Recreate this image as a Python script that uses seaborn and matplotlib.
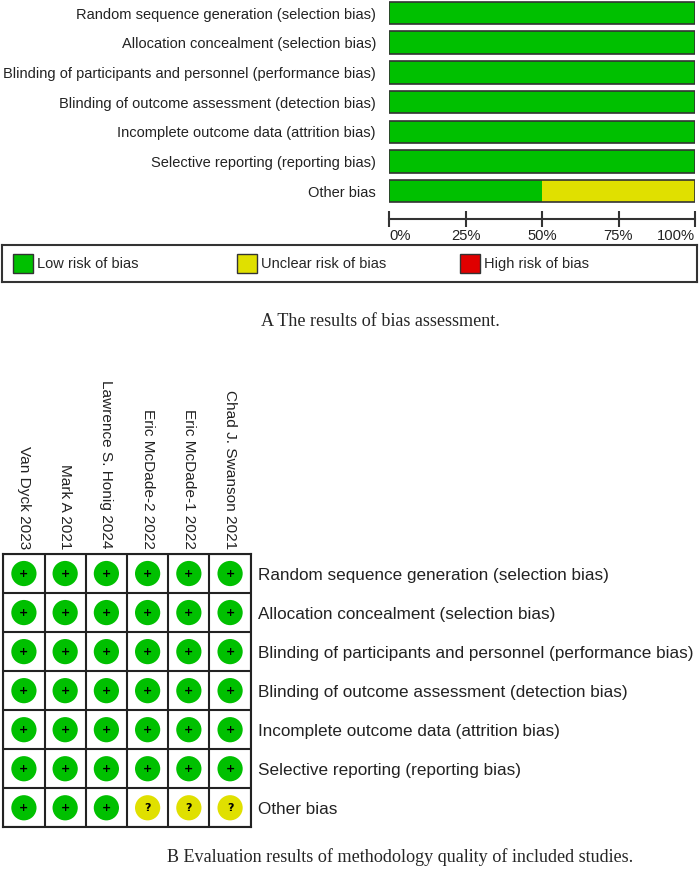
import numpy as np
import pandas as pd
import matplotlib
matplotlib.use('Agg')
import matplotlib.pyplot as plt
import seaborn as sns
from matplotlib.patches import Patch

sns.set_style('white')
plt.rcParams['font.family'] = ['Liberation Sans', 'DejaVu Sans']

# data
studies = ['Van Dyck 2023', 'Mark A 2021', 'Lawrence S. Honig 2024',
           'Eric McDade-2 2022', 'Eric McDade-1 2022', 'Chad J. Swanson 2021']
domains = ['Random sequence generation (selection bias)',
           'Allocation concealment (selection bias)',
           'Blinding of participants and personnel (performance bias)',
           'Blinding of outcome assessment (detection bias)',
           'Incomplete outcome data (attrition bias)',
           'Selective reporting (reporting bias)',
           'Other bias']
random_seq = ['+', '+', '+', '+', '+', '+']
allocation = ['+', '+', '+', '+', '+', '+']
blind_part = ['+', '+', '+', '+', '+', '+']
blind_out = ['+', '+', '+', '+', '+', '+']
incomplete = ['+', '+', '+', '+', '+', '+']
selective = ['+', '+', '+', '+', '+', '+']
other = ['+', '+', '+', '?', '?', '?']
judgements = [random_seq, allocation, blind_part, blind_out, incomplete, selective, other]

legend_labels = ['Low risk of bias', 'Unclear risk of bias', 'High risk of bias']
pct_ticks = [0, 25, 50, 75, 100]

GREEN, YELLOW, RED = '#00C000', '#E0E000', '#E00000'
colors = {'+': GREEN, '?': YELLOW, '-': RED}

low = [100 * r.count('+') / len(r) for r in judgements]
unclear = [100 * r.count('?') / len(r) for r in judgements]
high = [100 * r.count('-') / len(r) for r in judgements]
summary = pd.DataFrame({'domain': domains, 'low': low,
                        'low_unclear': np.add(low, unclear),
                        'total': np.add(np.add(low, unclear), high)})

W, H = 699, 894
def box(x0, y0, x1, y1):
    return [x0 / W, 1 - y1 / H, (x1 - x0) / W, (y1 - y0) / H]

fig = plt.figure(figsize=(W / 100, H / 100), dpi=100)

# ---- A: summary bars
ax1 = fig.add_axes(box(389, 0, 695, 219))
sns.barplot(data=summary, x='total', y='domain', color=RED, width=0.76,
            linewidth=0, saturation=1, ax=ax1)
sns.barplot(data=summary, x='low_unclear', y='domain', color=YELLOW, width=0.76,
            linewidth=0, saturation=1, ax=ax1)
sns.barplot(data=summary, x='low', y='domain', color=GREEN, width=0.76,
            linewidth=0, saturation=1, ax=ax1)
sns.barplot(data=summary, x='total', y='domain', fill=False, width=0.76,
            edgecolor='#333333', linewidth=1.2, ax=ax1)
ax1.set_xlim(0, 100)
ax1.set_ylim(6.936, -0.438)
ax1.set_xlabel('')
ax1.set_ylabel('')
for s in ['top', 'right', 'left']:
    ax1.spines[s].set_visible(False)
ax1.spines['bottom'].set_color('#333333')
ax1.spines['bottom'].set_linewidth(1.5)
ax1.set_xticks(pct_ticks)
ax1.set_xticklabels([f'{p}%' for p in pct_ticks])
for i, lab in enumerate(ax1.get_xticklabels()):
    lab.set_ha('left' if i == 0 else ('right' if i == len(pct_ticks) - 1 else 'center'))
ax1.tick_params(axis='x', bottom=True, direction='inout', length=12, width=1.5,
                color='#333333', pad=1, labelsize=10.6, labelcolor='#222222')
ax1.tick_params(axis='y', length=0, pad=9.4, labelsize=10.5, labelcolor='#222222')

# legend inside a framed strip, one entry per column slot
axl = fig.add_axes(box(2, 245, 697, 282))
axl.set_xticks([])
axl.set_yticks([])
for s in axl.spines.values():
    s.set_color('#333333')
    s.set_linewidth(1.5)
slots = [13, 237, 460]
legs = []
for x0, c, lab in zip(slots, [GREEN, YELLOW, RED], legend_labels):
    leg = axl.legend([Patch(facecolor=c, edgecolor='#333333', linewidth=1)], [lab],
                     loc='center left', bbox_to_anchor=((x0 - 2) / 695, 0.5),
                     frameon=False, fontsize=10.5, handlelength=1.35, handleheight=1.6,
                     handletextpad=0.3, borderaxespad=0, borderpad=0)
    legs.append(leg)
for leg in legs[:-1]:
    axl.add_artist(leg)

fig.text(380 / W, 1 - 322 / H, 'A The results of bias assessment.',
         family='Liberation Serif', fontsize=13.1, ha='center', va='center')

# ---- B: traffic light grid
rows = []
for d, r in zip(domains, judgements):
    for st, j in zip(studies, r):
        rows.append({'study': st, 'domain': d, 'judgement': j})
df = pd.DataFrame(rows)

ax2 = fig.add_axes(box(3.3, 554, 250.7, 827.3))
sns.scatterplot(data=df, x='study', y='domain', hue='judgement', palette=colors,
                s=330, linewidth=0, legend=False, ax=ax2)
for yi, r in enumerate(judgements):
    for xi, j in enumerate(r):
        ax2.text(xi, yi, j, ha='center', va='center', fontsize=8,
                 fontweight='bold', color='black', family='DejaVu Sans')
ax2.set_xlim(-0.5, len(studies) - 0.5)
ax2.set_ylim(len(domains) - 0.5, -0.5)
ax2.set_xticks(np.arange(-0.5, len(studies)), minor=True)
ax2.set_yticks(np.arange(-0.5, len(domains)), minor=True)
ax2.grid(which='minor', color='#222222', linewidth=1.5)
ax2.grid(which='major', visible=False)
for s in ax2.spines.values():
    s.set_color('#222222')
    s.set_linewidth(1.5)
ax2.set_xlabel('')
ax2.set_ylabel('')
ax2.xaxis.tick_top()
ax2.yaxis.tick_right()
ax2.set_xticks(range(len(studies)))
ax2.set_xticklabels(studies, rotation=270)
ax2.set_yticks(range(len(domains)))
ax2.set_yticklabels(domains)
ax2.tick_params(which='both', length=0)
ax2.tick_params(axis='x', pad=3.6, labelsize=11.1, labelcolor='#222222')
ax2.tick_params(axis='y', pad=5, labelsize=12.3, labelcolor='#222222')

fig.text(400 / W, 1 - 857 / H, 'B Evaluation results of methodology quality of included studies.',
         family='Liberation Serif', fontsize=13.1, ha='center', va='center')

fig.savefig('out.png', dpi=100)
